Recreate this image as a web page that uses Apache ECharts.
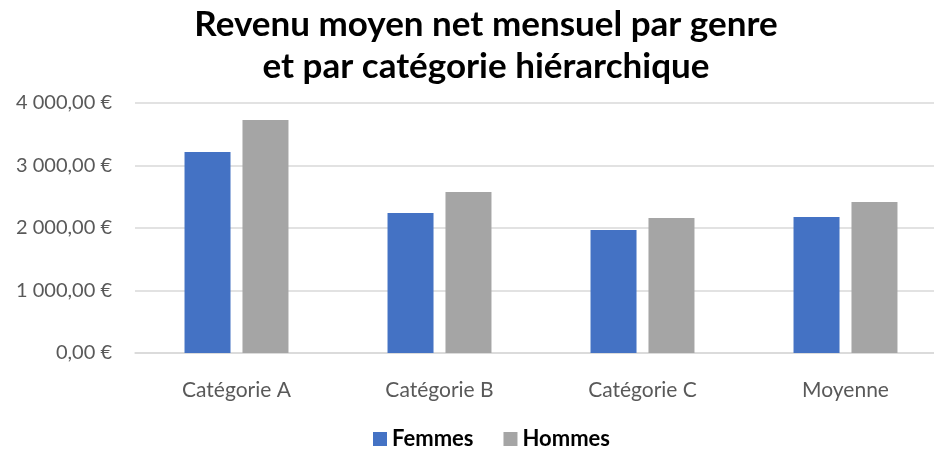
<!DOCTYPE html>
<html>
<head>
<meta charset="utf-8">
<script src="https://cdn.jsdelivr.net/npm/echarts@6/dist/echarts.min.js"></script>
<style>
    html, body {margin: 0; padding: 0; background: #fff;}
    #chart {width: 934px; height: 452px;}
</style>
</head>
<body>
<div id="chart"></div>
<script>
// catégories et valeurs
const categories = ['Catégorie A', 'Catégorie B', 'Catégorie C', 'Moyenne'];
const femmes = [3215, 2240, 1970, 2177];
const hommes = [3727, 2577, 2161, 2417];
const yTicks = [0, 1000, 2000, 3000, 4000];

// "4 000,00 €"
function formatEuro(v) {
    let parts = v.toFixed(2).split('.');
    let entier = parts[0].replace(/\B(?=(\d{3})+(?!\d))/g, ' ');
    return entier + ',' + parts[1] + ' €';
}

let chart = echarts.init(document.getElementById('chart'), null, {renderer: 'canvas'});
let font = 'Lato, "Noto Sans", sans-serif';

let option = {
    animation: false,
    textStyle: {fontFamily: font},
    title: {
        text: 'Revenu moyen net mensuel par genre\net par catégorie hiérarchique',
        left: 486,
        textAlign: 'center',
        top: 4,
        padding: 0,
        textStyle: {
            fontFamily: font,
            fontSize: 35,
            fontWeight: 'bold',
            color: '#000',
            lineHeight: 42
        }
    },
    legend: {
        bottom: 2,
        left: 373,
        padding: 0,
        itemWidth: 14,
        itemHeight: 14,
        itemGap: 30,
        icon: 'rect',
        textStyle: {fontFamily: font, fontSize: 22, fontWeight: 'bold', color: '#000'},
        data: ['Femmes', 'Hommes']
    },
    grid: {
        left: 135,
        top: 103,
        width: 812,
        height: 250,
        outerBoundsMode: 'none'
    },
    xAxis: {
        type: 'category',
        data: categories,
        axisLine: {lineStyle: {color: '#d9d9d9', width: 1.5}},
        axisTick: {show: false},
        axisLabel: {fontFamily: font, fontSize: 21, color: '#595959', margin: 27}
    },
    yAxis: {
        type: 'value',
        min: yTicks[0],
        max: yTicks[yTicks.length - 1],
        interval: 1000,
        axisLine: {show: false},
        axisTick: {show: false},
        splitLine: {lineStyle: {color: '#d9d9d9', width: 1.5}},
        axisLabel: {
            fontFamily: font,
            fontSize: 20,
            color: '#595959',
            margin: 23,
            formatter: formatEuro
        }
    },
    series: [
        {
            name: 'Femmes',
            type: 'bar',
            data: femmes,
            barWidth: 46,
            barGap: '26%',
            itemStyle: {color: '#4472C4'}
        },
        {
            name: 'Hommes',
            type: 'bar',
            data: hommes,
            barWidth: 46,
            itemStyle: {color: '#A5A5A5'}
        }
    ]
};
chart.setOption(option);
</script>
</body>
</html>
